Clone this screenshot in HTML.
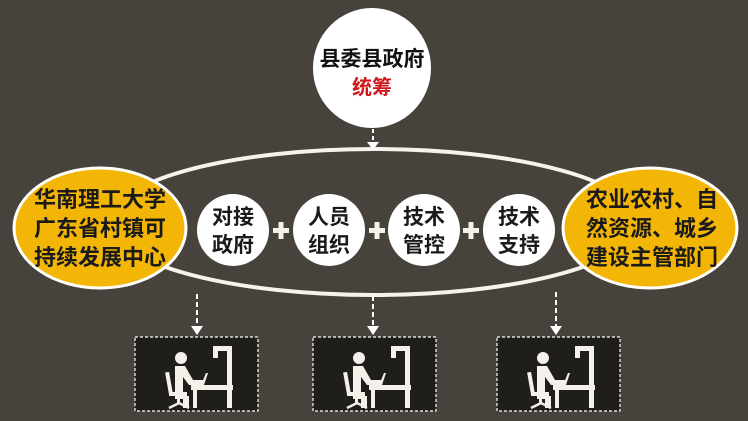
<!DOCTYPE html>
<html><head><meta charset="utf-8"><style>
html,body{margin:0;padding:0;background:#47433c;}
svg{display:block}
text{font-family:"Liberation Sans","Noto Sans CJK SC",sans-serif;font-weight:bold;text-anchor:middle}
</style></head><body>
<svg width="748" height="421" viewBox="0 0 748 421" xmlns="http://www.w3.org/2000/svg">
<defs>
<g id="icon">
  <circle cx="0" cy="0" r="6" fill="#f4f1ea"/>
  <path d="M-6 8 h10 l8 14 h10 v5 h-14 l-6 -8 v22 h-8z" fill="#f4f1ea"/>
  <rect x="-14" y="14" width="4" height="22" fill="#f4f1ea" transform="rotate(-10 -12 25)"/>
  <rect x="-12" y="34" width="18" height="4" fill="#f4f1ea"/>
  <rect x="-4" y="38" width="3" height="8" fill="#f4f1ea"/>
  <path d="M-12 50 l10 -5 l10 5" stroke="#f4f1ea" stroke-width="2.5" fill="none"/>
  <rect x="2" y="38" width="6" height="12" fill="#f4f1ea"/>
  <rect x="10" y="27" width="42" height="5" fill="#f4f1ea"/>
  <rect x="12" y="32" width="4" height="18" fill="#f4f1ea"/>
  <rect x="46" y="-12" width="5" height="62" fill="#f4f1ea"/>
  <rect x="32" y="-12" width="16" height="5" fill="#f4f1ea"/>
  <rect x="32" y="-8" width="5" height="8" fill="#f4f1ea"/>
  <path d="M20 27 l5 -12 h2 l-4 12z" fill="#f4f1ea"/>
</g>
</defs>
<!-- big ellipse -->
<ellipse cx="374" cy="222" rx="265" ry="73" fill="none" stroke="#f6f3ec" stroke-width="4"/>
<!-- top circle -->
<ellipse cx="372" cy="68" rx="59" ry="60" fill="#ffffff"/>
<text x="372" y="66" font-size="21" fill="#111">县委县政府</text>
<text x="372" y="94" font-size="20" fill="#d0161b">统筹</text>
<line x1="373" y1="129" x2="373" y2="143" stroke="#fff" stroke-width="2" stroke-dasharray="4,3"/>
<path d="M367 142 h12 l-6 8z" fill="#fff"/>
<!-- orange ellipses -->
<ellipse cx="100" cy="228" rx="86" ry="60" fill="#f4b606" stroke="#fff" stroke-width="3"/>
<text x="100" y="207" font-size="22" fill="#1a1a1a">华南理工大学</text>
<text x="100" y="236" font-size="22" fill="#1a1a1a">广东省村镇可</text>
<text x="100" y="265" font-size="22" fill="#1a1a1a">持续发展中心</text>
<ellipse cx="650" cy="228" rx="87" ry="60" fill="#f4b606" stroke="#fff" stroke-width="3"/>
<text x="652" y="207" font-size="22" fill="#1a1a1a">农业农村、自</text>
<text x="652" y="236" font-size="22" fill="#1a1a1a">然资源、城乡</text>
<text x="652" y="265" font-size="22" fill="#1a1a1a">建设主管部门</text>
<!-- small circles -->
<g fill="#fff">
<circle cx="233" cy="230" r="36"/><circle cx="329" cy="230" r="36"/>
<circle cx="424" cy="230" r="36"/><circle cx="519" cy="230" r="36"/>
</g>
<g font-size="21" fill="#1a1a1a">
<text x="233" y="224">对接</text><text x="233" y="252">政府</text>
<text x="329" y="224">人员</text><text x="329" y="252">组织</text>
<text x="424" y="224">技术</text><text x="424" y="252">管控</text>
<text x="519" y="224">技术</text><text x="519" y="252">支持</text>
</g>
<g fill="#f4f1ea">
<rect x="273" y="228" width="16" height="5"/><rect x="278.5" y="222" width="5" height="17"/>
<rect x="369" y="228" width="16" height="5"/><rect x="374.5" y="222" width="5" height="17"/>
<rect x="463" y="228" width="16" height="5"/><rect x="468.5" y="222" width="5" height="17"/>
</g>
<!-- down arrows -->
<g stroke="#fff" stroke-width="2" stroke-dasharray="5,3">
<line x1="197" y1="294" x2="197" y2="328"/>
<line x1="373" y1="296" x2="373" y2="328"/>
<line x1="556" y1="292" x2="556" y2="328"/>
</g>
<g fill="#fff">
<path d="M191 326 h12 l-6 9z"/><path d="M367 326 h12 l-6 9z"/><path d="M550 326 h12 l-6 9z"/>
</g>
<!-- boxes -->
<g fill="#1f1e1b" stroke="#fff" stroke-width="1.2" stroke-dasharray="3,2">
<rect x="135" y="337" width="123" height="74"/>
<rect x="313" y="337" width="123" height="74"/>
<rect x="497" y="337" width="123" height="74"/>
</g>
<use href="#icon" x="181" y="358"/>
<use href="#icon" x="359" y="358"/>
<use href="#icon" x="543" y="358"/>
</svg>
</body></html>
